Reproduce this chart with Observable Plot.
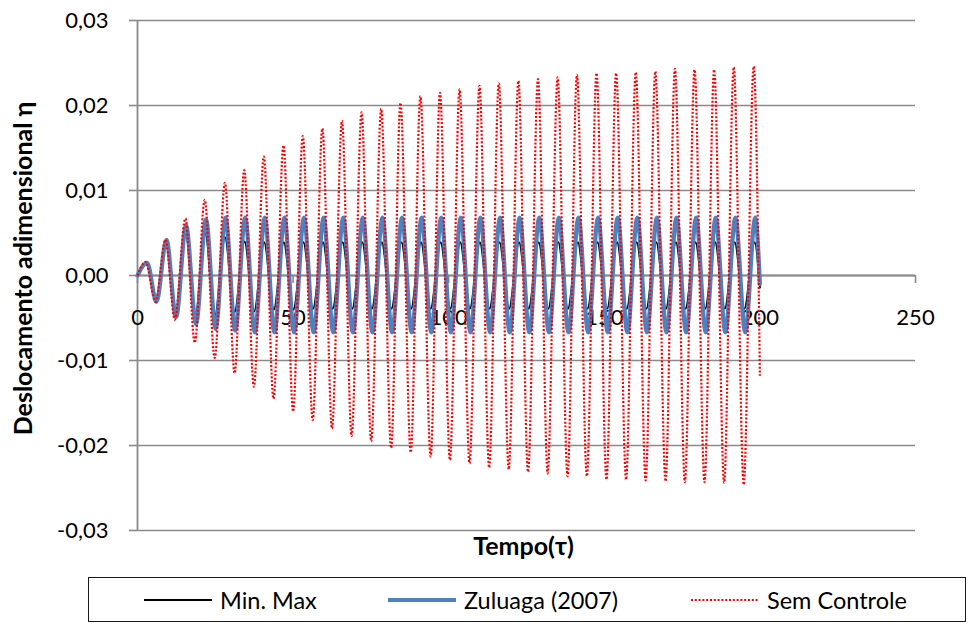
<!DOCTYPE html>
<html>
<head>
<meta charset="utf-8">
<script src="https://cdn.jsdelivr.net/npm/d3@7"></script>
<script src="https://cdn.jsdelivr.net/npm/@observablehq/plot@0.6"></script>
<style>
  html, body { margin: 0; padding: 0; background: #fff; }
  #wrap { position: relative; width: 970px; height: 623px; overflow: hidden; font-family: Lato, "Open Sans", sans-serif; }
  #chart svg { display: block; }
  #legend { position: absolute; left: 88px; top: 577px; width: 878px; height: 45px; box-sizing: border-box; border: 1.5px solid #1a1a1a; background: #fff; }
  .item { position: absolute; top: 0; height: 100%; display: flex; align-items: center; font-size: 23.5px; color: #000; }
  .item svg { margin-right: 8px; }
</style>
</head>
<body>
<div id="wrap"><div id="chart"></div><div id="legend"></div></div>
<script>
// ---------- data ----------
const seriesNames = ["Min. Max", "Zuluaga (2007)", "Sem Controle"];
const xTicks = [0, 50, 100, 150, 200, 250];
const yTicks = [-0.03, -0.02, -0.01, 0, 0.01, 0.02, 0.03];
const startT = 0, startV = 0;

// Sem Controle (red dotted): local maxima / minima
const semPeakT = [2.6, 9.0, 15.4, 21.6, 28.1, 34.3, 40.6, 46.9, 53.1, 59.4, 65.7, 72.0, 78.3, 84.5, 90.9, 97.2, 103.5, 109.9, 116.1, 122.4, 128.7, 135.0, 141.2, 147.5, 153.8, 160.1, 166.4, 172.7, 179.0, 185.3, 191.6, 198.0];
const semPeakV = [0.0016, 0.0042, 0.0067, 0.0089, 0.0109, 0.0124, 0.0140, 0.0153, 0.0164, 0.0173, 0.0182, 0.0192, 0.0196, 0.0203, 0.0211, 0.0215, 0.0219, 0.0223, 0.0226, 0.0229, 0.0231, 0.0233, 0.0236, 0.0238, 0.0238, 0.0239, 0.0240, 0.0243, 0.0242, 0.0242, 0.0245, 0.0246];
const semTroughT = [5.8, 12.0, 18.4, 24.8, 31.2, 37.4, 43.7, 50.0, 56.3, 62.5, 68.8, 75.1, 81.5, 87.8, 94.2, 100.4, 106.7, 113.0, 119.3, 125.5, 131.8, 138.2, 144.4, 150.7, 157.0, 163.3, 169.7, 175.9, 182.2, 188.5, 194.8];
const semTroughV = [-0.0031, -0.0052, -0.0079, -0.0097, -0.0115, -0.0131, -0.0145, -0.0160, -0.0170, -0.0180, -0.0189, -0.0195, -0.0203, -0.0208, -0.0213, -0.0217, -0.0221, -0.0226, -0.0228, -0.0231, -0.0233, -0.0236, -0.0236, -0.0240, -0.0240, -0.0241, -0.0242, -0.0243, -0.0243, -0.0244, -0.0246];
const semEndT = 200.0, semEndV = -0.0118;

// Zuluaga (2007) (blue)
const zulPeakT = [3.1, 9.3, 15.6, 22.0, 28.3, 34.6, 40.9, 47.2, 53.5, 59.8, 66.1, 72.4, 78.7, 85.0, 91.3, 97.6, 103.9, 110.2, 116.5, 122.8, 129.1, 135.4, 141.7, 148.0, 154.3, 160.6, 166.9, 173.2, 179.5, 185.8, 192.1, 198.5];
const zulPeakV = [0.0015, 0.0042, 0.0059, 0.0066, 0.0068, 0.0068, 0.0068, 0.0068, 0.0068, 0.0068, 0.0068, 0.0068, 0.0068, 0.0068, 0.0068, 0.0068, 0.0068, 0.0068, 0.0068, 0.0068, 0.0068, 0.0068, 0.0068, 0.0068, 0.0068, 0.0068, 0.0068, 0.0068, 0.0068, 0.0068, 0.0068, 0.0068];
const zulTroughT = [6.1, 12.4, 18.8, 25.1, 31.4, 37.7, 44.0, 50.3, 56.6, 62.9, 69.2, 75.5, 81.8, 88.1, 94.4, 100.7, 107.0, 113.3, 119.6, 125.9, 132.2, 138.5, 144.8, 151.1, 157.4, 163.7, 170.0, 176.3, 182.6, 188.9, 195.3];
const zulTroughV = [-0.0031, -0.0049, -0.0057, -0.0063, -0.0065, -0.0067, -0.0067, -0.0067, -0.0067, -0.0067, -0.0067, -0.0067, -0.0067, -0.0067, -0.0067, -0.0067, -0.0067, -0.0067, -0.0067, -0.0067, -0.0067, -0.0067, -0.0067, -0.0067, -0.0067, -0.0067, -0.0067, -0.0067, -0.0067, -0.0067, -0.0067];
const zulEndT = 200.0, zulEndV = -0.0010;

// Min. Max (black)
const mmPeakT = [3.0, 9.2, 15.5, 21.8, 28.1, 34.4, 40.7, 47.0, 53.3, 59.6, 65.9, 72.2, 78.5, 84.8, 91.1, 97.4, 103.7, 110.0, 116.3, 122.6, 128.9, 135.2, 141.5, 147.8, 154.1, 160.4, 166.7, 173.0, 179.3, 185.6, 191.9, 198.3];
const mmPeakV = [0.0015, 0.0042, 0.0049, 0.0049, 0.0045, 0.0040, 0.0039, 0.0039, 0.0039, 0.0039, 0.0039, 0.0039, 0.0039, 0.0039, 0.0039, 0.0039, 0.0039, 0.0039, 0.0039, 0.0039, 0.0039, 0.0039, 0.0039, 0.0039, 0.0039, 0.0039, 0.0039, 0.0039, 0.0039, 0.0039, 0.0039, 0.0039];
const mmTroughT = [6.0, 12.3, 18.6, 24.9, 31.2, 37.5, 43.8, 50.1, 56.4, 62.7, 69.0, 75.3, 81.6, 87.9, 94.2, 100.5, 106.8, 113.1, 119.4, 125.7, 132.0, 138.3, 144.6, 150.9, 157.2, 163.5, 169.8, 176.1, 182.4, 188.7, 195.0];
const mmTroughV = [-0.0031, -0.0049, -0.0047, -0.0047, -0.0043, -0.0042, -0.0040, -0.0040, -0.0039, -0.0039, -0.0039, -0.0039, -0.0039, -0.0039, -0.0039, -0.0039, -0.0039, -0.0039, -0.0039, -0.0039, -0.0039, -0.0039, -0.0039, -0.0039, -0.0039, -0.0039, -0.0039, -0.0039, -0.0039, -0.0039, -0.0039];
const mmEndT = 200.0, mmEndV = -0.0014;

const xLabel = "Tempo(τ)";
const yLabel = "Deslocamento adimensional η";

// ---------- build tables ----------
function build(name, pT, pV, tT, tV, eT, eV) {
  const rows = [{serie: name, t: startT, v: startV}];
  pT.forEach((t, i) => rows.push({serie: name, t, v: pV[i]}));
  tT.forEach((t, i) => rows.push({serie: name, t, v: tV[i]}));
  rows.push({serie: name, t: eT, v: eV});
  return rows.sort((a, b) => a.t - b.t);
}
const mmData = build(seriesNames[0], mmPeakT, mmPeakV, mmTroughT, mmTroughV, mmEndT, mmEndV);
const zulData = build(seriesNames[1], zulPeakT, zulPeakV, zulTroughT, zulTroughV, zulEndT, zulEndV);
const semData = build(seriesNames[2], semPeakT, semPeakV, semTroughT, semTroughV, semEndT, semEndV);

const styles = {
  [seriesNames[0]]: {stroke: "#000000", strokeWidth: 2, dash: null},
  [seriesNames[1]]: {stroke: "#4f81bd", strokeWidth: 4.2, dash: null},
  [seriesNames[2]]: {stroke: "#ff0000", strokeWidth: 2.2, dash: "2,1.8"}
};

const pt = d3.formatLocale({decimal: ",", thousands: ".", grouping: [3], currency: ["", ""], minus: "-"});
const fmtY = pt.format(".2f");
const grid = "#8a8a8a";
const font = "Lato, 'Open Sans', sans-serif";

const chart = Plot.plot({
  width: 970,
  height: 577,
  marginLeft: 137,
  marginRight: 55,
  marginTop: 20,
  marginBottom: 47,
  style: {fontFamily: font, fontSize: "22px", background: "#fff", color: "#000"},
  x: {domain: [0, 250], axis: null},
  y: {domain: [-0.03, 0.03], axis: null},
  marks: [
    Plot.gridY(yTicks, {stroke: grid, strokeOpacity: 1, strokeWidth: 1.6}),
    Plot.ruleX([0], {stroke: grid, strokeWidth: 1.8}),
    Plot.axisY(yTicks, {tickSize: 8, tickPadding: 21, tickFormat: fmtY, stroke: grid, strokeWidth: 1.6, fill: "#000", label: null}),
    Plot.ruleY([0], {stroke: grid, strokeWidth: 1.8}),
    Plot.ruleX(xTicks, {x: d => d, y1: 0, y2: 0, insetBottom: -8, stroke: grid, strokeWidth: 1.6}),
    Plot.text(xTicks, {x: d => d, y: 0, dy: 42, text: d => String(d), fill: "#000"}),
    Plot.line(mmData, {x: "t", y: "v", stroke: styles[seriesNames[0]].stroke, strokeWidth: styles[seriesNames[0]].strokeWidth, curve: "monotone-x"}),
    Plot.line(zulData, {x: "t", y: "v", stroke: styles[seriesNames[1]].stroke, strokeWidth: styles[seriesNames[1]].strokeWidth, curve: "monotone-x"}),
    Plot.line(semData, {x: "t", y: "v", stroke: styles[seriesNames[2]].stroke, strokeWidth: styles[seriesNames[2]].strokeWidth, strokeDasharray: styles[seriesNames[2]].dash, strokeLinecap: "butt", curve: "monotone-x"}),
    Plot.text([yLabel], {frameAnchor: "left", textAnchor: "middle", rotate: -90, dx: -114, dy: -7, fontSize: 25, fontWeight: "bold", fill: "#000"}),
    Plot.text([xLabel], {frameAnchor: "bottom", dx: -3, dy: 24, fontSize: 25, fontWeight: "bold", fill: "#000"})
  ]
});
document.getElementById("chart").appendChild(chart);

// ---------- legend ----------
const legend = d3.select("#legend");
const itemLeft = [55, 299, 602];
seriesNames.forEach((name, i) => {
  const st = styles[name];
  const item = legend.append("div").attr("class", "item").style("left", itemLeft[i] + "px");
  const sw = item.append("svg").attr("width", 68).attr("height", 10);
  sw.append("line").attr("x1", 0).attr("x2", 68).attr("y1", 5).attr("y2", 5)
    .attr("stroke", st.stroke).attr("stroke-width", st.strokeWidth)
    .attr("stroke-dasharray", st.dash);
  item.append("span").text(name);
});
</script>
</body>
</html>
